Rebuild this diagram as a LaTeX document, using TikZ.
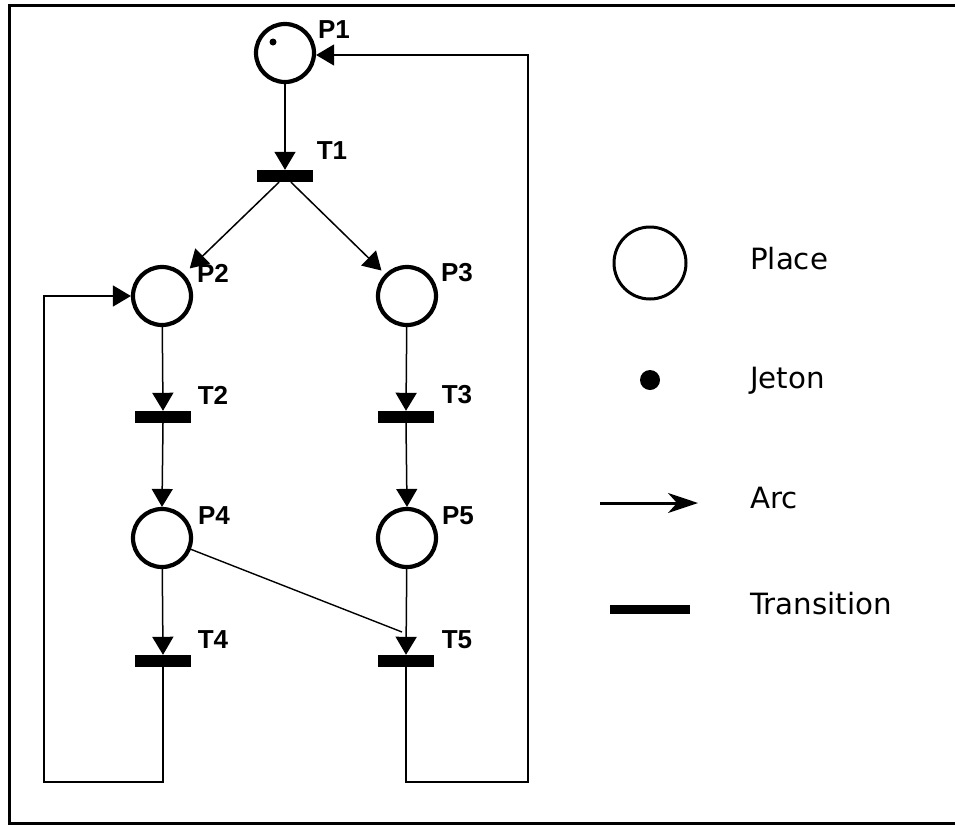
\documentclass[tikz,border=0pt]{standalone}
\usepackage{fontspec}
\setmainfont{Liberation Sans}
\newfontfamily\legfont{DejaVu Sans}
\usetikzlibrary{arrows.meta}
\begin{document}
\begin{tikzpicture}[x=1pt,y=-1pt,
  place/.style={circle,draw,line width=4.2pt,minimum size=58pt,inner sep=0pt},
  trans/.style={rectangle,fill=black,minimum width=56pt,minimum height=12pt,inner sep=0pt},
  lab/.style={font=\bfseries\fontsize{26}{28}\selectfont,inner sep=0pt},
  arcarrow/.style={line width=1.5pt,-{Triangle[width=21pt,length=18pt]}},
  wire/.style={line width=1.4pt},
  leg/.style={font=\legfont\fontsize{29.3}{31}\selectfont,anchor=base west,inner sep=0pt}]
\useasboundingbox (0,0) rectangle (955,825);
% frame
\draw[line width=3pt] (955,5) -- (9,5) -- (9,823) -- (955,823);

% places
\node[place] (P1) at (285,53) {};
\node[place] (P2) at (162,296) {};
\node[place] (P3) at (407,296) {};
\node[place] (P4) at (162,538) {};
\node[place] (P5) at (407,538) {};
\fill (273,42) circle (3.5pt);

% transitions
\node[trans] (T1) at (285,176) {};
\node[trans] (T2) at (163,417) {};
\node[trans] (T3) at (406,417) {};
\node[trans] (T4) at (163,661) {};
\node[trans] (T5) at (406,661) {};

% labels
\node[lab] (lP1) at (334,30) {P1};
\node[lab] (lP2) at (213,273) {P2};
\node[lab] (lP3) at (457,273) {P3};
\node[lab] (lP4) at (214,516) {P4};
\node[lab] (lP5) at (458,516) {P5};
\node[lab] (lT1) at (332,151) {T1};
\node[lab] (lT2) at (213,395) {T2};
\node[lab] (lT3) at (457,395) {T3};
\node[lab] (lT4) at (213,640) {T4};
\node[lab] (lT5) at (457,640) {T5};

% arcs
\draw[arcarrow] (P1) -- (T1.north);
\draw[arcarrow,shorten >=8pt] ([xshift=-6pt]T1.south) -- (P2.north east);
\draw[arcarrow,shorten >=5pt] ([xshift=6pt]T1.south) -- (P3.north west);
\draw[arcarrow] (P2) -- (T2.north);
\draw[arcarrow] (P3) -- (T3.north);
\draw[arcarrow] (T2.south) -- (P4.north);
\draw[arcarrow] (T3.south) -- (P5.north);
\draw[arcarrow] (P4) -- (T4.north);
\draw[arcarrow] (P5) -- (T5.north);
\coordinate (t5in) at (402,632);
\draw[wire] (P4) -- (t5in);

% loops
\coordinate (l1) at (163,782);
\coordinate (l2) at (44,782);
\coordinate (l3) at (44,296);
\draw[arcarrow] (T4.south) -- (l1) -- (l2) -- (l3) -- (P2.west);
\coordinate (r1) at (406,782);
\coordinate (r2) at (528,782);
\coordinate (r3) at (528,55);
\draw[arcarrow] (T5.south) -- (r1) -- (r2) -- (r3) -- (P1.east |- r3);

% legend
\node[circle,draw,line width=3pt,minimum size=72pt,inner sep=0pt] (LP) at (650,263) {};
\fill (650,380) circle (10pt);
\coordinate (la1) at (600,503);
\coordinate (la2) at (698,503);
\draw[line width=3pt,-{Stealth[length=30pt,width=20pt,inset=9pt]}] (la1) -- (la2);
\draw[line width=9pt] (610,609) -- (690,609);
\node[leg] (tPlace) at (750,269) {Place};
\node[leg] (tJeton) at (750,388) {Jeton};
\node[leg] (tArc) at (750,508) {Arc};
\node[leg] (tTrans) at (750,614) {Transition};
\end{tikzpicture}
\end{document}
